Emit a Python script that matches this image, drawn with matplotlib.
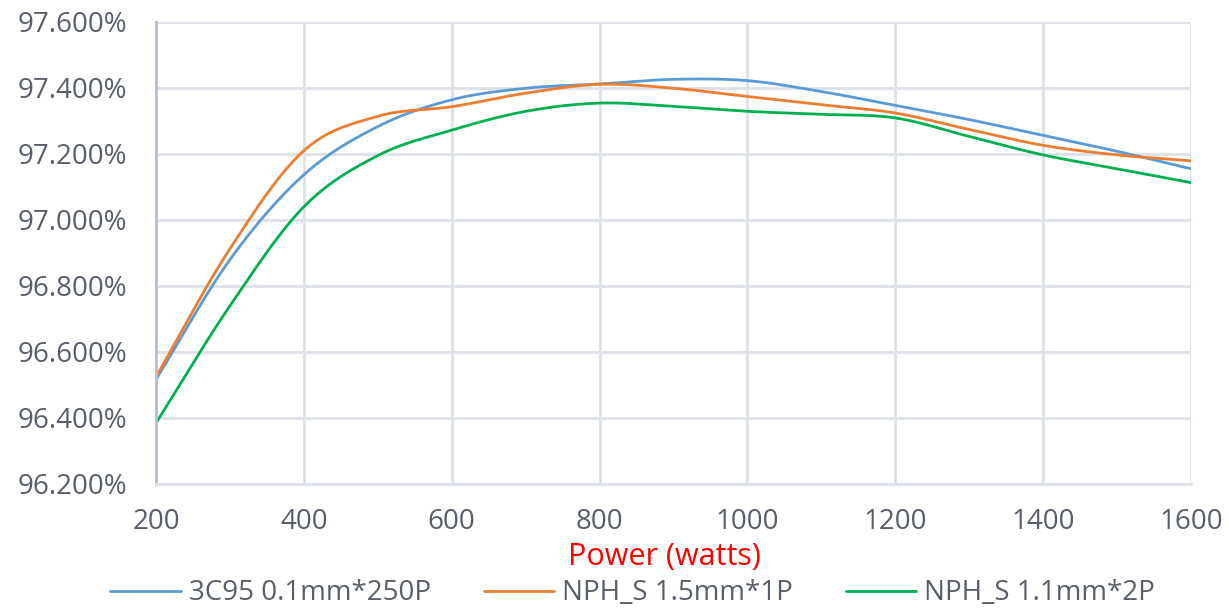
import numpy as np
import matplotlib
matplotlib.use("Agg")
import matplotlib.pyplot as plt
from matplotlib.ticker import FuncFormatter, MultipleLocator

power = [200, 300, 400, 500, 600, 700, 800, 900, 1000, 1100, 1200, 1300, 1400, 1500, 1600]
eff_3c95 = [96.517, 96.880, 97.137, 97.283, 97.364, 97.399, 97.412, 97.426, 97.422, 97.389, 97.347, 97.304, 97.256, 97.208, 97.155]
eff_nph_15 = [96.525, 96.913, 97.210, 97.314, 97.343, 97.384, 97.411, 97.399, 97.374, 97.349, 97.324, 97.274, 97.226, 97.197, 97.179]
eff_nph_11 = [96.385, 96.740, 97.040, 97.195, 97.272, 97.329, 97.354, 97.344, 97.329, 97.320, 97.309, 97.253, 97.197, 97.155, 97.113]

series_names = ["3C95 0.1mm*250P", "NPH_S 1.5mm*1P", "NPH_S 1.1mm*2P"]
series_colors = ["#5b9bd5", "#ed7d31", "#00b050"]


def smooth(x, y, n=30):
    x = np.asarray(x, float)
    y = np.asarray(y, float)
    px = np.concatenate([[2 * x[0] - x[1]], x, [2 * x[-1] - x[-2]]])
    py = np.concatenate([[2 * y[0] - y[1]], y, [2 * y[-1] - y[-2]]])
    xs, ys = [], []
    t = np.linspace(0, 1, n, endpoint=False)
    for i in range(1, len(px) - 2):
        p0, p1, p2, p3 = px[i - 1], px[i], px[i + 1], px[i + 2]
        q0, q1, q2, q3 = py[i - 1], py[i], py[i + 1], py[i + 2]
        for a, b, c, d, out in ((p0, p1, p2, p3, xs), (q0, q1, q2, q3, ys)):
            out.extend(0.5 * ((2 * b) + (-a + c) * t + (2 * a - 5 * b + 4 * c - d) * t ** 2
                              + (-a + 3 * b - 3 * c + d) * t ** 3))
    xs.append(x[-1])
    ys.append(y[-1])
    return np.array(xs), np.array(ys)


plt.rcParams['font.family'] = ['Open Sans', 'DejaVu Sans']
text_color = "#595f6a"

fig = plt.figure(figsize=(12.29, 6.08), dpi=100)
ax = fig.add_axes([0.127, 0.204, 0.842, 0.760])

for vals, name, col in zip([eff_3c95, eff_nph_15, eff_nph_11], series_names, series_colors):
    sx, sy = smooth(power, vals)
    ax.plot(sx, sy, color=col, lw=2.0, label=name, solid_capstyle='round')

ax.set_xlim(200, 1600)
ax.set_ylim(96.2, 97.6)
ax.xaxis.set_major_locator(MultipleLocator(200))
ax.yaxis.set_major_locator(MultipleLocator(0.2))
ax.yaxis.set_major_formatter(FuncFormatter(lambda v, p: f"{v:.3f}%"))
ax.grid(True, color="#dde1e8", lw=2.0)
ax.set_axisbelow(True)
for s in ["top", "right"]:
    ax.spines[s].set_visible(False)
ax.spines["left"].set_color("#b4bfd0")
ax.spines["left"].set_linewidth(2.0)
ax.spines["bottom"].set_color("#dde1e8")
ax.spines["bottom"].set_linewidth(2.0)
ax.tick_params(axis="both", length=0, labelsize=20, colors=text_color)
ax.tick_params(axis="y", pad=21)
ax.tick_params(axis="x", pad=17)
ax.set_xlabel("Power (watts)", color="red", fontsize=22, va="center")
ax.xaxis.set_label_coords((664.5 - 156) / 1035, -(557 - 484) / 462)

fig.legend(*ax.get_legend_handles_labels(), loc="center", bbox_to_anchor=(0.5147, 0.024), ncol=3,
           frameon=False, fontsize=20, labelcolor=text_color, handlelength=2.55,
           columnspacing=1.9, handletextpad=0.28, borderaxespad=0, borderpad=0)

fig.savefig("out.png", dpi=100)
